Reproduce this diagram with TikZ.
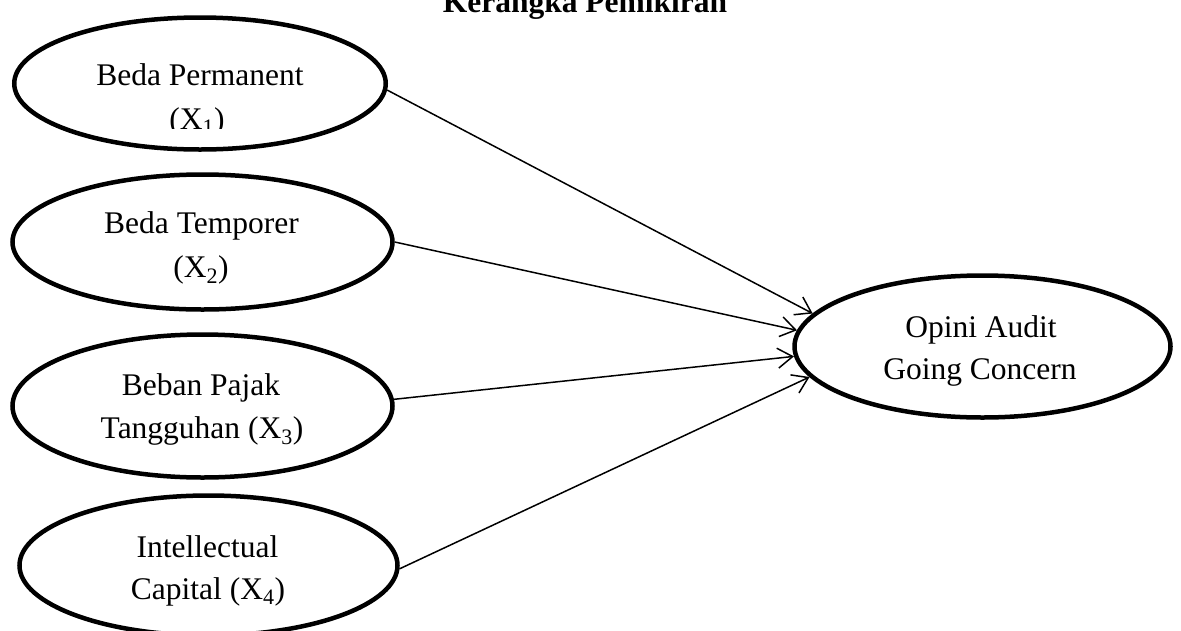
\documentclass[tikz,border=0pt]{standalone}
\usepackage{fontspec}
\setmainfont{Liberation Serif}
\usetikzlibrary{shapes.geometric,arrows.meta}
\tikzset{
  oval/.style={ellipse, draw=black, line width=4.5pt, inner sep=0pt},
  txt/.style={anchor=base, inner sep=0pt, font=\fontsize{31.5}{44}\selectfont},
  ttl/.style={anchor=base, inner sep=0pt, font=\fontsize{31.5}{44}\selectfont\bfseries},
  arr/.style={line width=1.5pt, -{Straight Barb[length=15pt,width=20pt,line width=1.5pt]}}
}
\begin{document}
\begin{tikzpicture}[x=1pt,y=-1pt]
\clip (0,0) rectangle (1181,630);
\fill[white] (0,0) rectangle (1181,630);
\node[ttl] (title) at (585,12) {Kerangka Pemikiran};
% ellipses
\node[oval, minimum width=371.5pt, minimum height=132pt] (e1) at (200,83.5) {};
\node[oval, minimum width=380pt, minimum height=135pt] (e2) at (202.5,242) {};
\node[oval, minimum width=380pt, minimum height=143pt] (e3) at (202.5,406) {};
\node[oval, minimum width=378pt, minimum height=140pt] (e4) at (208.5,565.5) {};
\node[oval, minimum width=376pt, minimum height=142pt] (t) at (982.5,346.5) {};
% texts
\node[txt] (e1a) at (200,85) {Beda Permanent};
\begin{scope}
\clip (0,0) rectangle (1181,128);
\node[txt] (e1b) at (197,129) {(X\textsubscript{1})};
\end{scope}
\node[txt] (e2a) at (201.5,233) {Beda Temporer};
\node[txt] (e2b) at (201,277) {(X\textsubscript{2})};
\node[txt] (e3a) at (201,395) {Beban Pajak};
\node[txt] (e3b) at (202,438) {Tangguhan (X\textsubscript{3})};
\node[txt] (e4a) at (207.5,557) {Intellectual};
\node[txt] (e4b) at (208,599) {Capital (X\textsubscript{4})};
\node[txt] (ta) at (981,337) {Opini Audit};
\node[txt] (tb) at (980,379) {Going Concern};
% arrows
\draw[arr] (e1.-2.6) -- (t.169.3);
\draw[arr] (e2.0.3) -- (t.175.7);
\draw[arr] (e3.2.1) -- (t.183.4);
\draw[arr] (e4.-1.9) -- (t.190);
\end{tikzpicture}
\end{document}
